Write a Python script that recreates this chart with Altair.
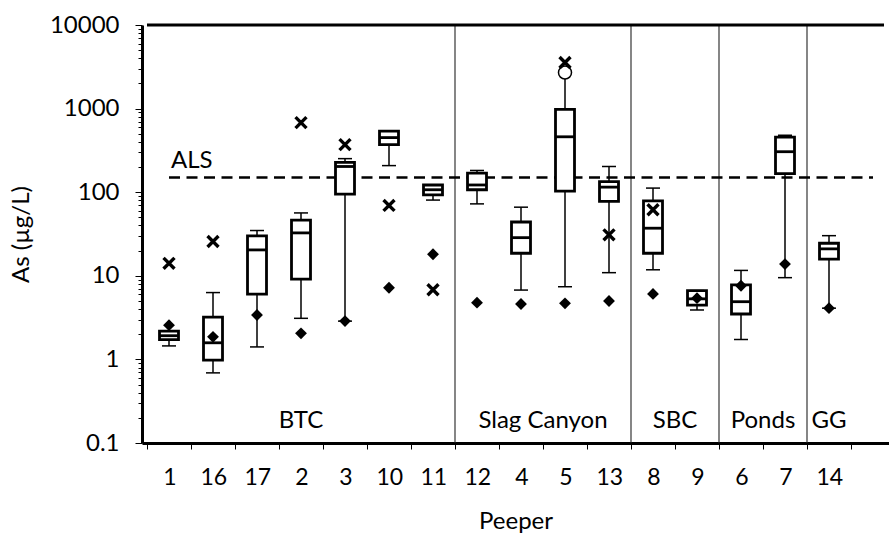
import altair as alt
import pandas as pd

# Peeper order along the x axis and the box statistics for As (µg/L)
peepers = ["1", "16", "17", "2", "3", "10", "11", "12", "4", "5", "13", "8", "9", "6", "7", "14"]
whisker_low = [1.45, 0.69, 1.41, 3.1, 2.87, 208, 80.5, 72.5, 6.75, 7.4, 10.9, 11.8, 3.9, 1.73, 9.5, 4.1]
q1 = [1.72, 0.98, 6.05, 9.1, 95, 371, 93, 107, 18.6, 103, 77.5, 18.6, 4.47, 3.49, 167, 15.8]
median = [1.92, 1.58, 20.4, 32.6, 203, 450, 107, 122, 28.6, 460, 115, 37.1, 5.3, 4.9, 305, 21.0]
q3 = [2.18, 3.2, 30, 46.3, 227, 537, 122, 169, 44, 980, 134, 78.9, 6.65, 7.8, 455, 24.5]
whisker_high = [2.18, 6.3, 34.8, 56.5, 252, 537, 122, 182, 66.2, 2700, 203, 112, 6.65, 11.6, 480, 30.2]

# Single measurements shown as markers
diamond_values = [2.57, 1.86, 3.4, 2.05, 2.87, 7.2, 18.1, 4.77, 4.6, 4.68, 5.0, 6.07, 5.4, 7.6, 13.8, 4.1]
cross_peepers = ["1", "16", "2", "3", "10", "11", "5", "13", "8"]
cross_values = [14.1, 25.7, 680, 371, 69.5, 6.8, 3560, 30.9, 61.6]
circle_peepers = ["5"]
circle_values = [2700]

# Site groups (consecutive peepers) and the ALS reference level
groups = ["BTC", "Slag Canyon", "SBC", "Ponds", "GG"]
group_sizes = [7, 4, 2, 2, 1]
als_value = 150
decades = [0.1, 1, 10, 100, 1000, 10000]

pos = {p: i + 1 for i, p in enumerate(peepers)}

boxes = pd.DataFrame({
    "peeper": peepers,
    "pos": [pos[p] for p in peepers],
    "lo": whisker_low, "q1": q1, "med": median, "q3": q3, "hi": whisker_high,
    "diamond": diamond_values,
})
crosses = pd.DataFrame({"pos": [pos[p] for p in cross_peepers], "v": cross_values})
circles = pd.DataFrame({"pos": [pos[p] for p in circle_peepers], "v": circle_values})

centers, bounds = [], []
acc = 0
for n in group_sizes:
    centers.append(acc + (n + 1) / 2)
    acc += n
    bounds.append(acc + 0.5)
group_df = pd.DataFrame({"g": groups, "pos": centers, "v": [0.15] * len(groups)})
sep_df = pd.DataFrame({"pos": bounds[:-1], "lo": [0.1] * (len(bounds) - 1), "hi": [10000] * (len(bounds) - 1)})
als_df = pd.DataFrame({"x": [1], "x2": [17], "v": [als_value]})
top_df = pd.DataFrame({"x": [0.5], "x2": [17.25], "v": [10000]})
als_label = pd.DataFrame({"x": [1], "v": [196], "t": ["ALS"]})

FONT = "Lato"
xscale = alt.Scale(domain=[0.5, 17.25], nice=False, zero=False)
yscale = alt.Scale(type="log", domain=[0.1, 10000], nice=False)

label_list = "[" + ",".join("'%s'" % p for p in peepers) + "]"
xaxis = alt.Axis(
    values=[i + 0.5 for i in range(len(peepers) + 1)],
    labelExpr=label_list + "[floor(datum.value)] || ''",
    labelOffset=22.3, labelFlush=False, labelOverlap=False,
    tickSize=6, tickWidth=1, domainWidth=3, labelFontSize=23,
    labelPadding=17, titleFontSize=24, titlePadding=20,
)
ytick_values = [round(m * 10 ** e, 6) for e in range(-1, 4) for m in range(1, 10)] + [10000]
major_test = "indexof(" + str(decades) + ", datum.value) >= 0"
yaxis = alt.Axis(
    values=ytick_values,
    labelExpr=major_test + " ? '' + datum.value : ''",
    labelOverlap=False,
    tickSize={"condition": {"test": major_test, "value": 7}, "value": 4},
    tickWidth=1, domainWidth=3, labelFontSize=24, labelPadding=16,
    titleFontSize=24, titlePadding=16,
)


def X(field):
    return alt.X(field, type="quantitative", scale=xscale, axis=xaxis, title="Peeper")


def Y(field):
    return alt.Y(field, type="quantitative", scale=yscale, axis=yaxis, title="As (µg/L)")


separators = alt.Chart(sep_df).mark_rule(color="#222222", strokeWidth=1.1).encode(
    x=X("pos"), y=Y("lo"), y2="hi")
als_line = alt.Chart(als_df).mark_rule(color="black", strokeWidth=2.5, strokeDash=[11, 6.5]).encode(
    x=X("x"), x2="x2", y=Y("v"))
whiskers = alt.Chart(boxes).mark_rule(color="black", strokeWidth=1.5).encode(
    x=X("pos"), y=Y("lo"), y2="hi")
caps_lo = alt.Chart(boxes).mark_point(shape="M-1,0L1,0", size=196, filled=False, color="black",
                                       strokeWidth=1.5, opacity=1).encode(x=X("pos"), y=Y("lo"))
caps_hi = alt.Chart(boxes).mark_point(shape="M-1,0L1,0", size=196, filled=False, color="black",
                                       strokeWidth=1.5, opacity=1).encode(x=X("pos"), y=Y("hi"))
box = alt.Chart(boxes).mark_bar(size=19, fill="white", stroke="black", strokeWidth=2.8).encode(
    x=X("pos"), y=Y("q1"), y2="q3")
med = alt.Chart(boxes).mark_point(shape="M-1,0L1,0", size=361, filled=False, color="black",
                                   strokeWidth=2.8, opacity=1).encode(x=X("pos"), y=Y("med"))
circle_pts = alt.Chart(circles).mark_point(shape="circle", size=170, filled=True, fill="white",
                                            stroke="black", strokeWidth=1.5, opacity=1).encode(
    x=X("pos"), y=Y("v"))
cross_pts = alt.Chart(crosses).mark_point(shape="M-1,-1L1,1M-1,1L1,-1", size=120, filled=False,
                                           color="black", strokeWidth=3.4, opacity=1).encode(
    x=X("pos"), y=Y("v"))
diamond_pts = alt.Chart(boxes).mark_point(shape="diamond", size=140, filled=True, color="black",
                                           opacity=1).encode(x=X("pos"), y=Y("diamond"))
group_text = alt.Chart(group_df).mark_text(font=FONT, fontSize=24, color="black",
                                            baseline="alphabetic", align="center").encode(
    x=X("pos"), y=Y("v"), text="g")
als_text = alt.Chart(als_label).mark_text(font=FONT, fontSize=24, color="black",
                                           baseline="alphabetic", align="left", dx=2).encode(
    x=X("x"), y=Y("v"), text="t")
top_border = alt.Chart(top_df).mark_rule(color="black", strokeWidth=3).encode(
    x=X("x"), x2="x2", y=Y("v"))

chart = alt.layer(
    separators, als_line, whiskers, caps_lo, caps_hi, box, med,
    circle_pts, cross_pts, diamond_pts, group_text, als_text, top_border,
).properties(
    width=747, height=418,
    padding={"left": 142, "top": 25, "right": 0, "bottom": 92},
    autosize=alt.AutoSizeParams(type="none"),
).configure_view(stroke=None).configure_axis(
    grid=False, domainColor="black", tickColor="black", labelColor="black",
    titleColor="black", labelFont=FONT, titleFont=FONT, titleFontWeight="normal",
)

chart.save("out.html", embed_options={"renderer": "svg", "actions": False})
